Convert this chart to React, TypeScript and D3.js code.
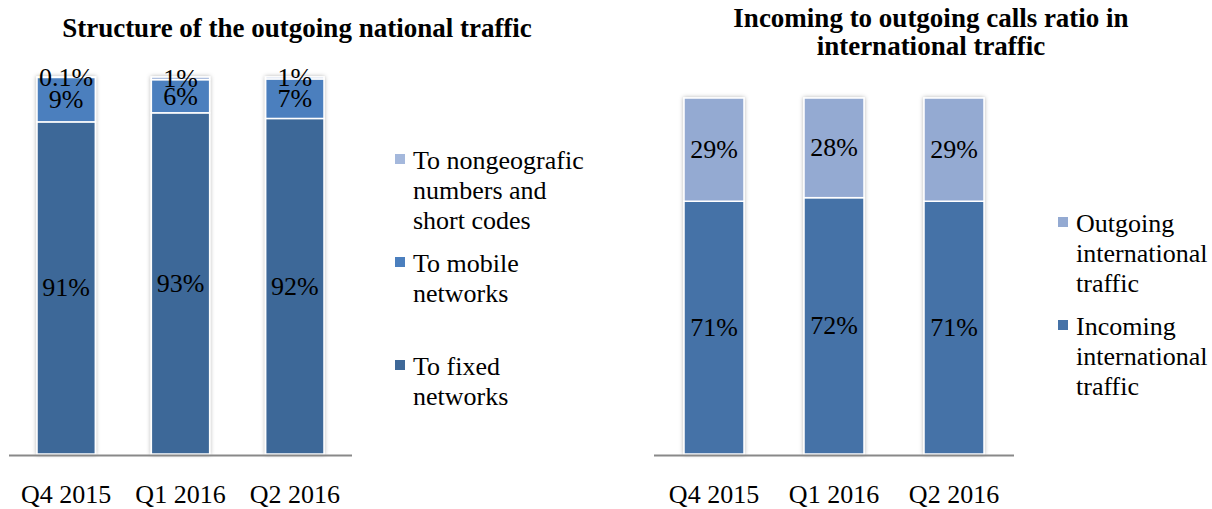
import * as d3 from "d3";

// categories shared by both charts
const quarters = ["Q4 2015", "Q1 2016", "Q2 2016"];

// left chart: shares as the bars are drawn in the source
const fixedShare = [88.1, 90.5, 89.0];
const mobileShare = [11.8, 8.8, 10.5];
const nongeoShare = [0.1, 0.7, 0.5];
// labels printed on the bars (rounded by the source)
const fixedLabels = ["91%", "93%", "92%"];
const mobileLabels = ["9%", "6%", "7%"];
const nongeoLabels = ["0.1%", "1%", "1%"];

// right chart
const incomingShare = [71, 72, 71];
const outgoingShare = [29, 28, 29];

const FONT = "Liberation Serif, Tinos, Times New Roman, DejaVu Serif, serif";

type Series = { key: string; values: number[]; labels: string[]; color: string };

function StackedChart({
  series, x0, x1, top, bottom, pad,
}: { series: Series[]; x0: number; x1: number; top: number; bottom: number; pad: number }) {
  const x = d3.scaleBand().domain(quarters).range([x0, x1]).paddingInner(pad).paddingOuter(pad / 2);
  const y = d3.scaleLinear().domain([0, 1]).range([bottom, top]);

  const rows = quarters.map((q, i) => {
    const r: any = { q };
    series.forEach((s) => (r[s.key] = s.values[i]));
    return r;
  });
  const stack = d3.stack().keys(series.map((s) => s.key)).offset(d3.stackOffsetExpand)(rows);

  return (
    <g>
      {quarters.map((q, i) => (
        <g key={q} filter="url(#glow)">
          {stack.map((layer, k) => (
            <rect key={k} x={x(q)} width={x.bandwidth()}
              y={y(layer[i][1])} height={Math.max(0, y(layer[i][0]) - y(layer[i][1]))}
              fill={series[k].color} stroke="#fff" strokeWidth={1.5} />
          ))}
        </g>
      ))}
      {quarters.map((q, i) =>
        stack.map((layer, k) => (
          <text key={q + k} x={x(q)! + x.bandwidth() / 2} y={(y(layer[i][0]) + y(layer[i][1])) / 2}
            textAnchor="middle" dominantBaseline="central" fontSize={26} fontFamily={FONT} fill="#000">
            {series[k].labels[i]}
          </text>
        ))
      )}
      <line x1={x0} x2={x1} y1={bottom + 1.5} y2={bottom + 1.5} stroke="#898989" strokeWidth={2} />
      {quarters.map((q) => (
        <text key={q} x={x(q)! + x.bandwidth() / 2} y={503} textAnchor="middle" fontSize={26} fontFamily={FONT}>{q}</text>
      ))}
    </g>
  );
}

function Legend({ x, items }: { x: number; items: { color: string; lines: string[]; y: number }[] }) {
  return (
    <g>
      {items.map((it) => (
        <g key={it.lines[0]}>
          <rect x={x} y={it.y - 15} width={10} height={10} fill={it.color} />
          {it.lines.map((l, j) => (
            <text key={j} x={x + 18} y={it.y + j * 30} fontSize={26} fontFamily={FONT}>{l}</text>
          ))}
        </g>
      ))}
    </g>
  );
}

export default function App() {
  const left: Series[] = [
    { key: "fixed", values: fixedShare, labels: fixedLabels, color: "#3E6898" },
    { key: "mobile", values: mobileShare, labels: mobileLabels, color: "#4B7FBE" },
    { key: "nongeo", values: nongeoShare, labels: nongeoLabels, color: "#A4B8DC" },
  ];
  const right: Series[] = [
    { key: "in", values: incomingShare, labels: incomingShare.map((v) => v + "%"), color: "#4572A7" },
    { key: "out", values: outgoingShare, labels: outgoingShare.map((v) => v + "%"), color: "#94AAD2" },
  ];
  return (
    <svg width={1212} height={509} style={{ position: "absolute", left: 0, top: 0 }} fontFamily={FONT}>
      <defs>
        <filter id="glow" x="-20%" y="-5%" width="140%" height="110%">
          <feDropShadow dx={0} dy={0} stdDeviation={2} floodColor="#000" floodOpacity={0.3} />
        </filter>
      </defs>
      <rect width={1212} height={509} fill="#fff" />
      <text x={297} y={37} textAnchor="middle" fontSize={27} fontWeight="bold" fontFamily={FONT}>
        Structure of the outgoing national traffic
      </text>
      <text x={931} y={27} textAnchor="middle" fontSize={27} fontWeight="bold" fontFamily={FONT}>
        <tspan x={931}>Incoming to outgoing calls ratio in</tspan>
        <tspan x={931} dy={28}>international traffic</tspan>
      </text>
      <StackedChart series={left} x0={9} x1={352} top={77} bottom={454} pad={0.49} />
      <StackedChart series={right} x0={654} x1={1014} top={98} bottom={454} pad={0.5} />
      <Legend x={395} items={[
        { color: "#A4B8DC", lines: ["To nongeografic", "numbers and", "short codes"], y: 169 },
        { color: "#4B7FBE", lines: ["To mobile", "networks"], y: 272 },
        { color: "#3E6898", lines: ["To fixed", "networks"], y: 375 },
      ]} />
      <Legend x={1058} items={[
        { color: "#94AAD2", lines: ["Outgoing", "international", "traffic"], y: 232 },
        { color: "#4572A7", lines: ["Incoming", "international", "traffic"], y: 335 },
      ]} />
    </svg>
  );
}
